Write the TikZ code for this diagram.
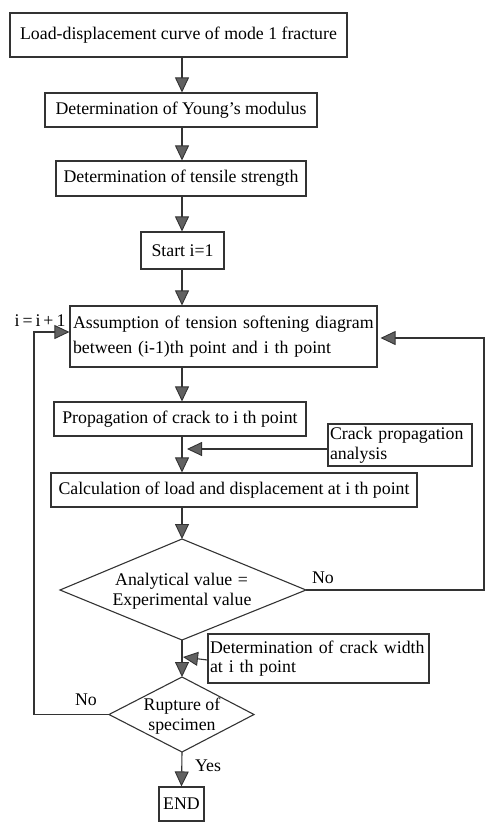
\documentclass[tikz,border=0pt]{standalone}
\usepackage{fontspec}
\setmainfont{Liberation Serif}
\usetikzlibrary{arrows.meta,shapes.geometric}
\begin{document}
\begin{tikzpicture}[x=1pt,y=-1pt,
  font=\fontsize{17.8}{19.5}\selectfont,
  line width=1.1pt, draw=black!80,
  box/.style={draw=black!80, line width=1.1pt, inner sep=2pt, align=center},
  arr/.style={-{Triangle[width=14pt,length=15pt,fill=black!62,line width=0.9pt]}, draw=black!80},
  lbl/.style={inner sep=0pt}]
\useasboundingbox (0,0) rectangle (485,822);
\node[box, minimum width=337pt, minimum height=44pt] (b1) at (178.5,35) {Load-displacement curve of mode 1 fracture};
\node[box, minimum width=272pt, minimum height=34pt] (b2) at (181,110) {Determination of Young’s modulus};
\node[box, minimum width=250pt, minimum height=35pt] (b3) at (181,178.5) {Determination of tensile strength};
\node[box, minimum width=83pt, minimum height=37pt] (b4) at (182.5,250.5) {Start i=1};
\node[box, minimum width=307pt, minimum height=61pt, text width=301pt, align=left, font=\fontsize{17.8}{25}\selectfont] (b5) at (223.5,336.5) {Assumption of tension softening diagram\\between (i-1)th point and i th point};
\node[box, minimum width=252pt, minimum height=34pt] (b6) at (180,419) {Propagation of crack to i th point};
\node[box, minimum width=144pt, minimum height=42pt, text width=140pt, inner sep=1pt, align=left] (b7) at (400,445) {Crack propagation\\analysis};
\node[box, minimum width=366pt, minimum height=34pt] (b8) at (234,490) {Calculation of load and displacement at i th point};
\draw[line width=1.1pt, draw=black!80] (60,590) coordinate (d1w) -- (182,539) coordinate (d1n) -- (306,590) coordinate (d1e) -- (182,640) coordinate (d1s) -- cycle;
\node[lbl, align=center] (d1t) at (182,591) {Analytical value \kern1pt=\kern1pt\\Experimental value};
\node[box, minimum width=221pt, minimum height=49pt, text width=217pt, inner sep=1pt, align=left] (b9) at (318.5,658.5) {Determination of crack width\\at i th point};
\draw[line width=1.1pt, draw=black!80] (109,714.5) coordinate (d2w) -- (182,677) coordinate (d2n) -- (254,714.5) coordinate (d2e) -- (182,752) coordinate (d2s) -- cycle;
\node[lbl, align=center] (d2t) at (182,716) {Rupture of\\specimen};
\node[box, minimum width=45pt, minimum height=34pt, inner sep=1pt] (end) at (181.5,804) {END};
\node[lbl] (inc) at (40,321) {i\kern3pt=\kern3pti\kern3pt+\kern3pt1};
\node[lbl] (no1) at (323,578) {No};
\node[lbl] (no2) at (86,700) {No};
\node[lbl] (yes) at (208,766) {Yes};
\coordinate (m) at (182,0);
\draw[arr] (b1.south -| m) -- (b2.north -| m);
\draw[arr] (b2.south -| m) -- (b3.north -| m);
\draw[arr] (b3.south -| m) -- (b4.north -| m);
\draw[arr] (b4.south -| m) -- (b5.north -| m);
\draw[arr] (b5.south -| m) -- (b6.north -| m);
\draw[arr] (b6.south -| m) -- (b8.north -| m);
\coordinate (b7a) at ([yshift=-4pt]b7.west);
\draw[arr] (b7a) -- (187,449);
\draw[arr] (b8.south -| m) -- (d1n);
\coordinate (r1) at (484,590);
\coordinate (r2) at (484,338);
\draw[arr] (d1e) -- (r1) -- (r2) -- ([xshift=3pt]b5.east |- r2);
\draw[arr] (d1s) -- (d2n);
\draw[arr] ([yshift=-1.5pt]b9.west) -- (183,657);
\coordinate (l1) at (34,714.5);
\coordinate (l2) at (34,332);
\draw[arr] (d2w) -- (l1) -- (l2) -- (b5.west |- l2);
\draw[arr] (d2s) -- (end.north);
\end{tikzpicture}
\end{document}
